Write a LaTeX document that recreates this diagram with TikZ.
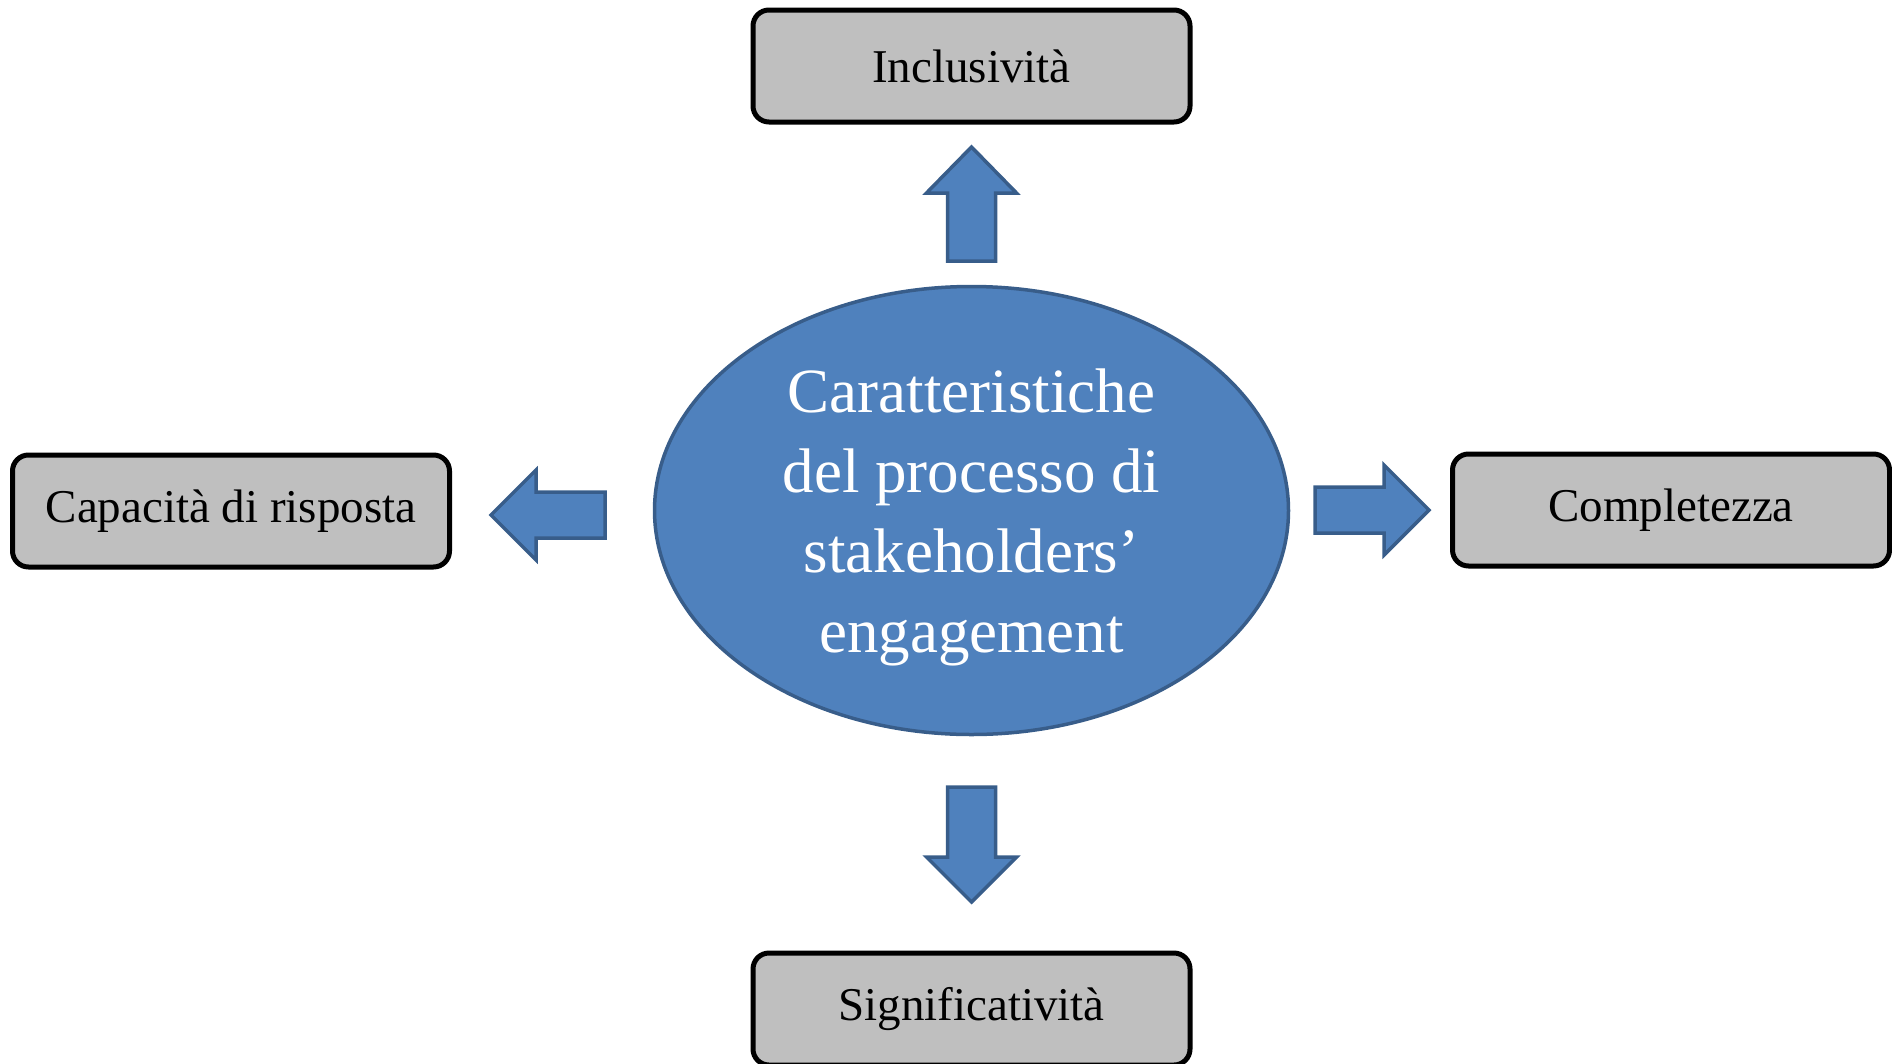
\documentclass[tikz,border=0pt]{standalone}
\usepackage{fontspec}
\setmainfont{Liberation Serif}
\usetikzlibrary{shapes.geometric}
\definecolor{boxgrey}{HTML}{BFBFBF}
\definecolor{blufill}{HTML}{4F81BD}
\definecolor{bluline}{HTML}{385D8A}
\tikzset{
  greybox/.style={draw=black, line width=5pt, fill=boxgrey, rounded corners=16pt,
    minimum width=437pt, minimum height=112pt, inner sep=0pt,
    font=\fontsize{47pt}{56pt}\selectfont},
  centre/.style={ellipse, draw=bluline, line width=3.5pt, fill=blufill,
    minimum width=634pt, minimum height=448pt, inner sep=0pt},
  centretext/.style={align=center, text=white, font=\fontsize{63pt}{80pt}\selectfont},
  barrow/.style={draw=bluline, line width=3.5pt, fill=blufill, line join=miter}
}
\begin{document}
\begin{tikzpicture}[x=1pt,y=-1pt]
\useasboundingbox (0,0) rectangle (1892,1063);
\node[greybox] (top) at (971.5,66) {Inclusività};
\node[greybox] (left) at (231,511) {Capacità di risposta};
\node[greybox] (right) at (1671,510) {Completezza};
\node[greybox] (bottom) at (971.5,1009) {Significatività};
\node[centre] (c) at (971.5,510.5) {};
\node[centretext] (ct) at ([yshift=-7pt]c.center) {Caratteristiche\\del processo di\\stakeholders’\\engagement};
% top arrow
\draw[barrow] (947.5,261) -- (947.5,193) -- (926.5,193) -- (971.5,147) -- (1016.5,193) -- (995.5,193) -- (995.5,261) -- cycle;
% bottom arrow
\draw[barrow] (947.5,787) -- (947.5,857) -- (926.5,857) -- (971.5,902) -- (1016.5,857) -- (995.5,857) -- (995.5,787) -- cycle;
% left arrow
\draw[barrow] (605,492) -- (536,492) -- (536,470) -- (491,515) -- (536,560) -- (536,538) -- (605,538) -- cycle;
% right arrow
\draw[barrow] (1315,487) -- (1384,487) -- (1384,465) -- (1429,510) -- (1384,555) -- (1384,533) -- (1315,533) -- cycle;
\end{tikzpicture}
\end{document}
